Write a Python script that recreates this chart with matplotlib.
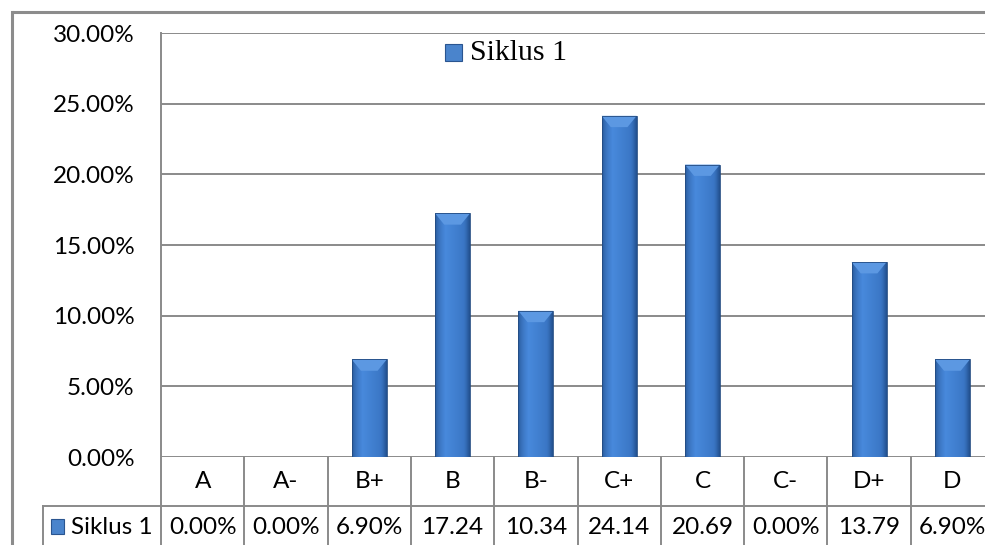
import numpy as np
import matplotlib
matplotlib.use("Agg")
import matplotlib.pyplot as plt
from matplotlib.patches import Rectangle, Polygon
from matplotlib.colors import to_rgb
import matplotlib.transforms as mtransforms

# data
categories = ["A", "A-", "B+", "B", "B-", "C+", "C", "C-", "D+", "D"]
siklus1 = [0.00, 0.00, 6.90, 17.24, 10.34, 24.14, 20.69, 0.00, 13.79, 6.90]
series_name = "Siklus 1"
yticks = [0, 5, 10, 15, 20, 25, 30]

W, H = 985, 545
plt.rcParams['font.family'] = ['Lato', 'DejaVu Sans']
FS = 17.5

fig = plt.figure(figsize=(W / 100, H / 100), dpi=100)
# plot area in pixels: left 161, top 33, bottom 457, one category ~83.3 px
ax = fig.add_axes([161 / W, (H - 457) / H, 833 / W, 424 / H])
ax.set_xlim(-0.5, len(categories) - 0.5)
ax.set_ylim(0, 30)
for s in ax.spines.values():
    s.set_visible(False)

grid_c = "#8a8a8a"
for t in yticks:
    ax.axhline(t, color=grid_c, lw=1.4, zorder=1)
ax.set_xticks([])
ax.set_yticks(yticks)
ax.set_yticklabels([f"{t:.2f}%" for t in yticks], fontsize=FS, color="black")
ax.tick_params(axis="y", length=0, pad=19)

# bars with a fake bevel (horizontal gradient + light top face)
dark = np.array(to_rgb("#22508e"))
light = np.array(to_rgb("#4889dc"))
mid = np.array(to_rgb("#3b77c6"))
n = 64
u = np.linspace(0, 1, n)
grad = np.zeros((1, n, 3))
for i, t in enumerate(u):
    if t < 0.3:
        c = dark + (light - dark) * (t / 0.3) ** 0.5
    elif t < 0.82:
        c = light + (mid - light) * (t - 0.3) / 0.52
    else:
        c = mid + (dark - mid) * ((t - 0.82) / 0.18) ** 1.3
    grad[0, i] = c

bw = 0.42
bars = ax.bar(range(len(categories)), siklus1, width=bw, color="none",
              edgecolor="#244c82", lw=0.6, zorder=3)
for b, v in zip(bars, siklus1):
    if v <= 0:
        continue
    x0, x1 = b.get_x(), b.get_x() + b.get_width()
    im = ax.imshow(grad, extent=(x0, x1, 0, v), aspect="auto", zorder=2,
                   interpolation="bilinear")
    im.set_clip_path(b)
    dh, dx = 0.8, 0.11
    top = Polygon([(x0, v), (x1, v), (x1 - dx, v - dh), (x0 + dx, v - dh)],
                  closed=True, fc="#5c98e2", ec="none", zorder=2.5)
    ax.add_patch(top)
ax.set_xlim(-0.5, len(categories) - 0.5)
ax.set_ylim(0, 30)

# legend inside the plot
fig.add_artist(Rectangle((445 / W, (H - 61) / H), 17 / W, 17 / H, transform=fig.transFigure,
                         fc="#4a84cc", ec="#2a5590", lw=0.8))
fig.text(470 / W, (H - 53) / H, series_name, fontsize=21.5, family="Liberation Serif",
         va="center", ha="left")

# data table under the plot
blend = mtransforms.blended_transform_factory(ax.transData, ax.transAxes)
ypx = lambda p: -(p - 457) / 424.0
ax.plot([-0.5, -0.5], [ypx(H), 1], color=grid_c, lw=1.4, clip_on=False, transform=blend)
for k in range(1, len(categories)):
    ax.plot([k - 0.5, k - 0.5], [ypx(H), 0], color=grid_c, lw=1.4, clip_on=False,
            transform=blend)
fig.add_artist(plt.Line2D([43 / W, 1.0], [(H - 506) / H] * 2, color=grid_c, lw=1.4,
                          transform=fig.transFigure))
fig.add_artist(plt.Line2D([43 / W] * 2, [(H - 506) / H, 0.0], color=grid_c, lw=1.4,
                          transform=fig.transFigure))
for i, (c, v) in enumerate(zip(categories, siklus1)):
    ax.text(i, ypx(482), c, transform=blend, ha="center", va="center", fontsize=FS)
    lab = f"{v:.2f}%"
    if len(lab) > 5:  # excel cuts the % off when the cell is too narrow
        lab = lab[:-1]
    ax.text(i, ypx(528), lab, transform=blend, ha="center", va="center", fontsize=FS)
fig.add_artist(Rectangle((51 / W, (H - 534) / H), 13 / W, 15 / H, transform=fig.transFigure,
                         fc="#4a84cc", ec="#2a5590", lw=0.8))
fig.text(71 / W, (H - 528) / H, series_name, fontsize=FS, va="center", ha="left")

# outer chart frame (only left and top visible, rest is cut off)
frame_c = "#8c8c8c"
fig.add_artist(plt.Line2D([11.5 / W] * 2, [0.0, (H - 11.5) / H], color=frame_c, lw=2.2,
                          transform=fig.transFigure, solid_capstyle="projecting"))
fig.add_artist(plt.Line2D([11.5 / W, 1.0], [(H - 11.5) / H] * 2, color=frame_c, lw=2.2,
                          transform=fig.transFigure, solid_capstyle="butt"))

fig.savefig("out.png", dpi=100)
